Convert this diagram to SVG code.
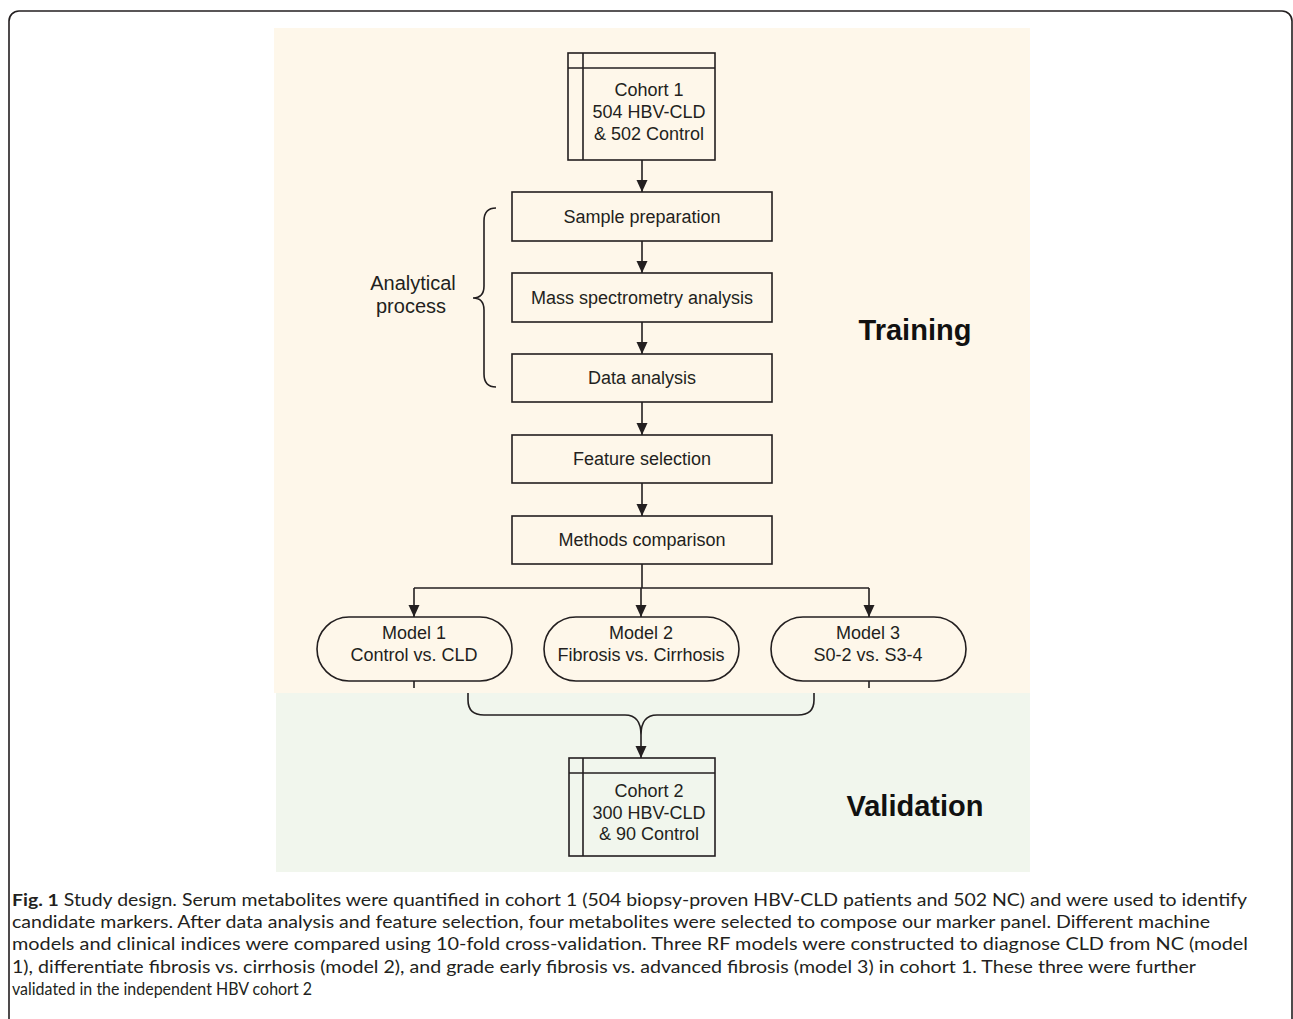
<svg xmlns="http://www.w3.org/2000/svg" width="1293" height="1019" viewBox="0 0 1293 1019">
<defs>
<marker id="ah" markerUnits="userSpaceOnUse" markerWidth="12" markerHeight="14" refX="12" refY="5.5" orient="auto">
<path d="M0,0 L12,5.5 L0,11 Z" fill="#231f20"/>
</marker>
<style>
.box{fill:none;stroke:#231f20;stroke-width:1.6}
.ln{fill:none;stroke:#231f20;stroke-width:1.6}
.t{font-family:"Liberation Sans",Arial,sans-serif;font-size:18px;fill:#231f20;text-anchor:middle}
.big{font-family:"Liberation Sans",Arial,sans-serif;font-size:29px;font-weight:bold;fill:#111;text-anchor:middle}
.cap{font-family:Lato,"Open Sans",sans-serif;font-size:17.5px;fill:#231f20}
</style>
</defs>
<rect width="1293" height="1019" fill="#fff"/>
<rect x="9" y="11" width="1283" height="1100" rx="10" fill="none" stroke="#231f20" stroke-width="1.6"/>
<rect x="274" y="28" width="756" height="665" fill="#fef7ea"/>
<rect x="276" y="693" width="754" height="179" fill="#f1f6ed"/>

<g id="cohort1">
<rect class="box" x="568" y="53" width="147" height="107"/>
<line class="ln" x1="583" y1="53" x2="583" y2="160"/>
<line class="ln" x1="568" y1="68" x2="715" y2="68"/>
<text class="t" x="649" y="96">Cohort 1</text>
<text class="t" x="649" y="118">504 HBV-CLD</text>
<text class="t" x="649" y="140">&amp; 502 Control</text>
</g>
<g id="sample">
<rect class="box" x="512" y="192" width="260" height="49"/>
<text class="t" x="642" y="223">Sample preparation</text>
</g>
<g id="mass">
<rect class="box" x="512" y="273" width="260" height="49"/>
<text class="t" x="642" y="304">Mass spectrometry analysis</text>
</g>
<g id="data">
<rect class="box" x="512" y="354" width="260" height="48"/>
<text class="t" x="642" y="384">Data analysis</text>
</g>
<g id="feature">
<rect class="box" x="512" y="435" width="260" height="48"/>
<text class="t" x="642" y="465">Feature selection</text>
</g>
<g id="methods">
<rect class="box" x="512" y="516" width="260" height="48"/>
<text class="t" x="642" y="546">Methods comparison</text>
</g>
<g id="model1">
<rect class="box" x="317" y="617" width="195" height="64" rx="32"/>
<text class="t" x="414" y="639">Model 1</text>
<text class="t" x="414" y="661">Control vs. CLD</text>
</g>
<g id="model2">
<rect class="box" x="544" y="617" width="195" height="64" rx="32"/>
<text class="t" x="641" y="639">Model 2</text>
<text class="t" x="641" y="661">Fibrosis vs. Cirrhosis</text>
</g>
<g id="model3">
<rect class="box" x="771" y="617" width="195" height="64" rx="32"/>
<text class="t" x="868" y="639">Model 3</text>
<text class="t" x="868" y="661">S0-2 vs. S3-4</text>
</g>
<g id="cohort2">
<rect class="box" x="569" y="758" width="146" height="98"/>
<line class="ln" x1="583" y1="758" x2="583" y2="856"/>
<line class="ln" x1="569" y1="773" x2="715" y2="773"/>
<text class="t" x="649" y="797">Cohort 2</text>
<text class="t" x="649" y="819">300 HBV-CLD</text>
<text class="t" x="649" y="840">&amp; 90 Control</text>
</g>
<g id="analytical">
<path class="ln" d="M496,208 Q484,208 484,221 L484,286 Q484,298 473,298 Q484,298 484,310 L484,374 Q484,387 496,387"/>
<text class="t" x="413" y="290" style="font-size:20px">Analytical</text>
<text class="t" x="411" y="313" style="font-size:20px">process</text>
</g>
<g id="labels">
<text class="big" x="915" y="340">Training</text>
<text class="big" x="915" y="816">Validation</text>
</g>
<g id="connectors">
<line class="ln" x1="642" y1="160" x2="642" y2="192" marker-end="url(#ah)"/>
<line class="ln" x1="642" y1="241" x2="642" y2="273" marker-end="url(#ah)"/>
<line class="ln" x1="642" y1="322" x2="642" y2="354" marker-end="url(#ah)"/>
<line class="ln" x1="642" y1="402" x2="642" y2="435" marker-end="url(#ah)"/>
<line class="ln" x1="642" y1="483" x2="642" y2="516" marker-end="url(#ah)"/>
<line class="ln" x1="642" y1="564" x2="642" y2="588"/>
<line class="ln" x1="414" y1="588" x2="869" y2="588"/>
<line class="ln" x1="414" y1="588" x2="414" y2="617" marker-end="url(#ah)"/>
<line class="ln" x1="641" y1="588" x2="641" y2="617" marker-end="url(#ah)"/>
<line class="ln" x1="869" y1="588" x2="869" y2="617" marker-end="url(#ah)"/>
<line class="ln" x1="414" y1="681" x2="414" y2="688"/>
<line class="ln" x1="869" y1="681" x2="869" y2="688"/>
<path class="ln" d="M468,693 L468,700 Q468,715 484,715 L625,715 Q641,715 641,735 Q641,715 657,715 L798,715 Q814,715 814,700 L814,693"/>
<line class="ln" x1="641" y1="735" x2="641" y2="758" marker-end="url(#ah)"/>
</g>
<g id="caption">
<text class="cap" x="12" y="906" textLength="1235" lengthAdjust="spacingAndGlyphs"><tspan font-weight="bold">Fig. 1</tspan> Study design. Serum metabolites were quantified in cohort 1 (504 biopsy-proven HBV-CLD patients and 502 NC) and were used to identify</text>
<text class="cap" x="12" y="928" textLength="1198" lengthAdjust="spacingAndGlyphs">candidate markers. After data analysis and feature selection, four metabolites were selected to compose our marker panel. Different machine</text>
<text class="cap" x="12" y="950" textLength="1236" lengthAdjust="spacingAndGlyphs">models and clinical indices were compared using 10-fold cross-validation. Three RF models were constructed to diagnose CLD from NC (model</text>
<text class="cap" x="12" y="973" textLength="1184" lengthAdjust="spacingAndGlyphs">1), differentiate fibrosis vs. cirrhosis (model 2), and grade early fibrosis vs. advanced fibrosis (model 3) in cohort 1. These three were further</text>
<text class="cap" x="12" y="995" textLength="300" lengthAdjust="spacingAndGlyphs">validated in the independent HBV cohort 2</text>
</g>
</svg>
